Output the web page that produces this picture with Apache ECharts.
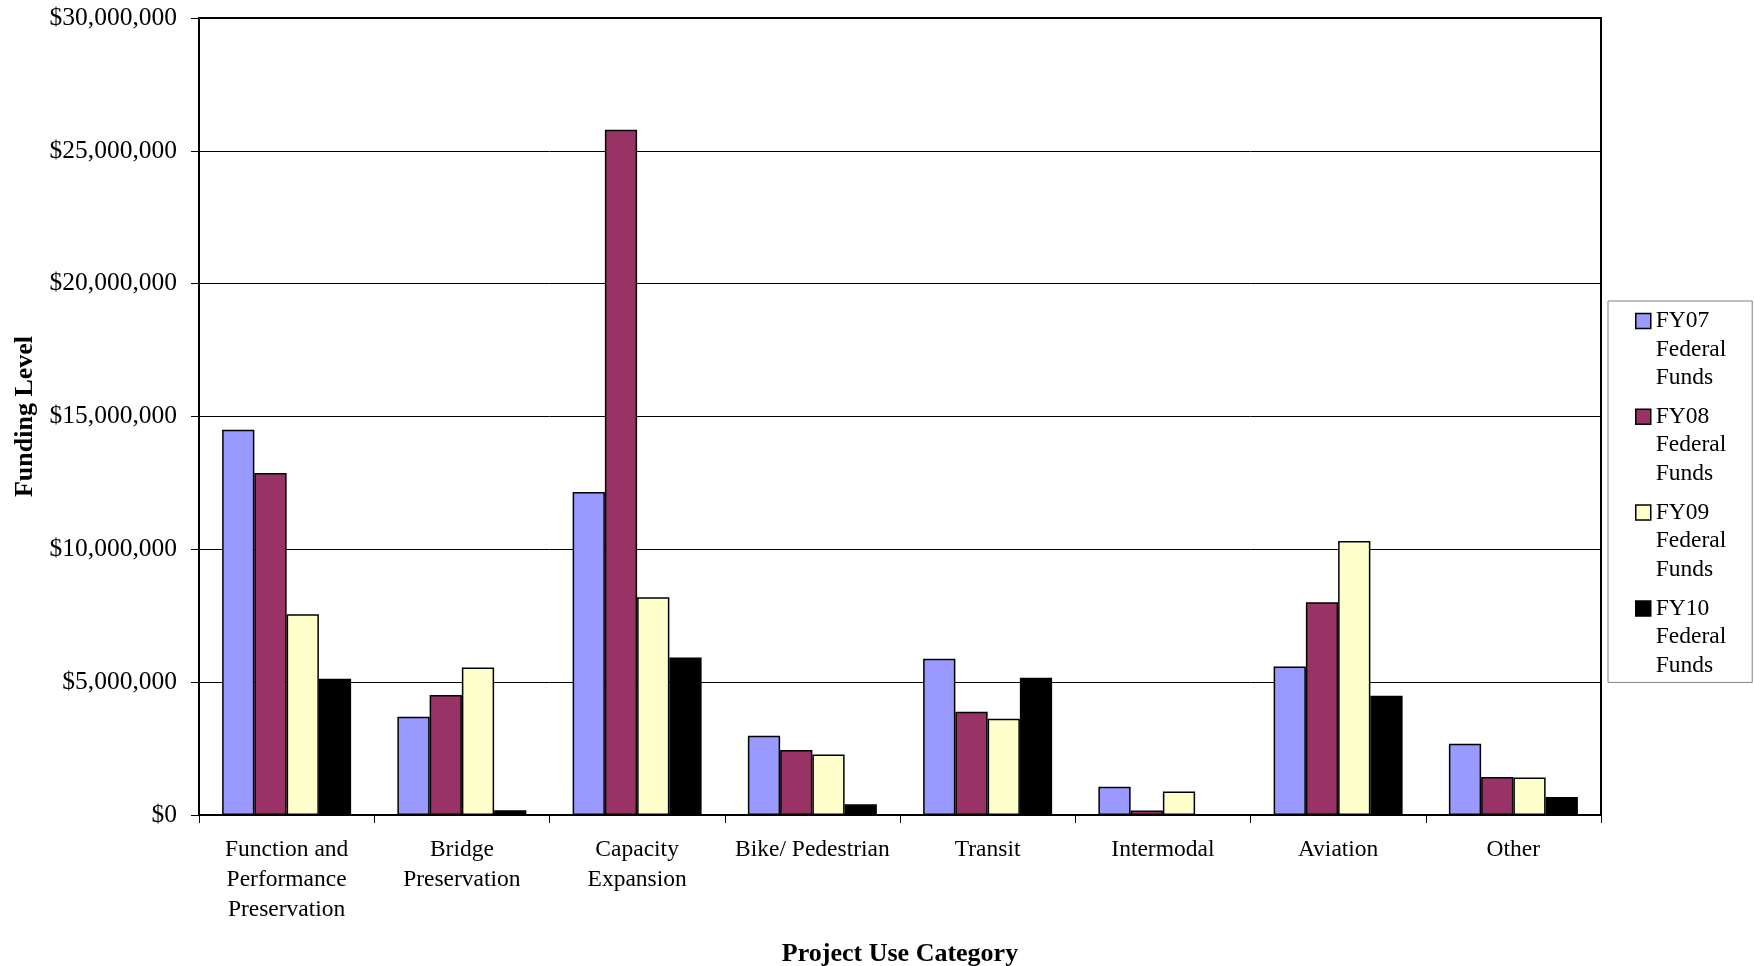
<!DOCTYPE html>
<html>
<head>
<meta charset="utf-8">
<script src="https://cdn.jsdelivr.net/npm/echarts@6/dist/echarts.min.js"></script>
<style>
html,body{margin:0;padding:0;background:#fff;}
#chart{width:1754px;height:966px;}
</style>
</head>
<body>
<div id="chart"></div>
<script>
const categories = ['Function and\nPerformance\nPreservation', 'Bridge\nPreservation', 'Capacity\nExpansion', 'Bike/ Pedestrian', 'Transit', 'Intermodal', 'Aviation', 'Other'];
const seriesNames = ['FY07 Federal Funds', 'FY08 Federal Funds', 'FY09 Federal Funds', 'FY10 Federal Funds'];
const fy07 = [14500000, 3700000, 12160000, 2980000, 5880000, 1060000, 5590000, 2680000];
const fy08 = [12870000, 4520000, 25790000, 2450000, 3890000, 170000, 8010000, 1430000];
const fy09 = [7560000, 5550000, 8200000, 2280000, 3620000, 880000, 10310000, 1410000];
const fy10 = [5130000, 180000, 5930000, 400000, 5170000, 0, 4490000, 680000];
const yTicks = [0, 5000000, 10000000, 15000000, 20000000, 25000000, 30000000];
const colors = ['#9999FF', '#993366', '#FFFFCC', '#000000'];

const FONT = 'Liberation Serif';
function money(v) {
  return '$' + String(Math.round(v)).replace(/\B(?=(\d{3})+(?!\d))/g, ',');
}

const dataSets = [fy07, fy08, fy09, fy10];
const chart = echarts.init(document.getElementById('chart'), null, {renderer: 'canvas'});
chart.setOption({
  backgroundColor: '#ffffff',
  animation: false,
  color: colors,
  grid: {
    left: 199, right: 153, top: 18, bottom: 151,
    outerBoundsMode: 'none',
    containLabel: false,
    show: true, borderColor: '#000', borderWidth: 2, backgroundColor: 'transparent'
  },
  legend: {
    orient: 'vertical',
    left: 1608, top: 301,
    padding: [5, 26, 2, 27],
    itemGap: 8.8,
    itemWidth: 15,
    itemHeight: 85.5,
    icon: 'path://M0,6.75L15,6.75L15,21.75L0,21.75Z M0,0 M0,85.5',
    backgroundColor: '#fff',
    borderColor: '#808080',
    borderWidth: 1,
    borderRadius: 0,
    itemStyle: {borderColor: '#000', borderWidth: 1.5},
    formatter: function (name) { return name.replace(/ /g, '\n'); },
    textStyle: {fontFamily: FONT, fontSize: 23.5, lineHeight: 28.5, color: '#000'},
    data: seriesNames
  },
  xAxis: {
    type: 'category',
    data: categories,
    name: 'Project Use Category',
    nameLocation: 'middle',
    nameGap: 126,
    nameTextStyle: {fontFamily: FONT, fontSize: 26, fontWeight: 'bold', color: '#000'},
    axisLine: {lineStyle: {color: '#000', width: 2}},
    axisTick: {show: true, inside: false, length: 8, lineStyle: {color: '#000', width: 1}},
    axisLabel: {interval: 0, margin: 20, fontFamily: FONT, fontSize: 23.5, lineHeight: 30, color: '#000'},
    splitLine: {show: false}
  },
  yAxis: {
    type: 'value',
    min: yTicks[0],
    max: yTicks[yTicks.length - 1],
    interval: yTicks[1] - yTicks[0],
    name: 'Funding Level',
    nameLocation: 'middle',
    nameGap: 161,
    nameRotate: 90,
    nameTextStyle: {fontFamily: FONT, fontSize: 26, fontWeight: 'bold', color: '#000'},
    axisLine: {show: true, lineStyle: {color: '#000', width: 2}},
    axisTick: {show: true, inside: false, length: 8, lineStyle: {color: '#000', width: 1}},
    axisLabel: {margin: 22, fontFamily: FONT, fontSize: 25.5, color: '#000', formatter: money},
    splitLine: {show: true, lineStyle: {color: '#000', width: 1}}
  },
  series: seriesNames.map(function (n, i) {
    return {
      name: n,
      type: 'bar',
      data: dataSets[i],
      barGap: '0%',
      barCategoryGap: '26.4%',
      itemStyle: {color: colors[i], borderColor: '#000', borderWidth: 1.5}
    };
  })
});
</script>
</body>
</html>
